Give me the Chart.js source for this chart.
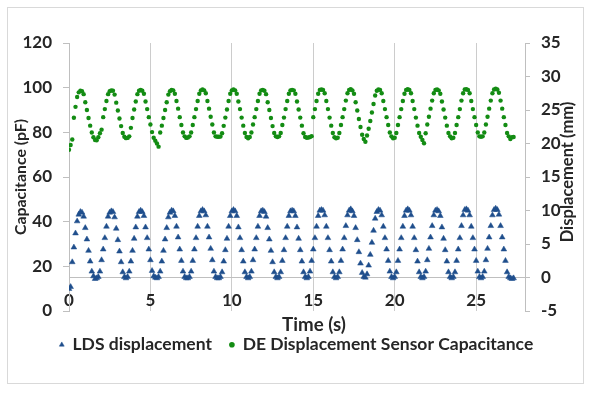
<!DOCTYPE html>
<html lang="en">
<head>
    <meta charset="utf-8">
    <title>DE displacement sensor</title>
    <script src="https://cdn.jsdelivr.net/npm/chart.js@4.4.1/dist/chart.umd.min.js"></script>
    <style>
        html, body { margin: 0; padding: 0; background: #fff; }
    </style>
</head>
<body>
    <canvas id="myChart" width="593" height="393"></canvas>

    <script>
        // sample times (s)
        const time = [
            0.0, 0.1, 0.2, 0.3, 0.4, 0.5, 0.6, 0.7, 0.8, 0.9,
            1.0, 1.1, 1.2, 1.3, 1.4, 1.5, 1.6, 1.7, 1.8, 1.9,
            2.0, 2.1, 2.2, 2.3, 2.4, 2.5, 2.6, 2.7, 2.8, 2.9,
            3.0, 3.1, 3.2, 3.3, 3.4, 3.5, 3.6, 3.7, 3.8, 3.9,
            4.0, 4.1, 4.2, 4.3, 4.4, 4.5, 4.6, 4.7, 4.8, 4.9,
            5.0, 5.1, 5.2, 5.3, 5.4, 5.5, 5.6, 5.7, 5.8, 5.9,
            6.0, 6.1, 6.2, 6.3, 6.4, 6.5, 6.6, 6.7, 6.8, 6.9,
            7.0, 7.1, 7.2, 7.3, 7.4, 7.5, 7.6, 7.7, 7.8, 7.9,
            8.0, 8.1, 8.2, 8.3, 8.4, 8.5, 8.6, 8.7, 8.8, 8.9,
            9.0, 9.1, 9.2, 9.3, 9.4, 9.5, 9.6, 9.7, 9.8, 9.9,
            10.0, 10.1, 10.2, 10.3, 10.4, 10.5, 10.6, 10.7, 10.8, 10.9,
            11.0, 11.1, 11.2, 11.3, 11.4, 11.5, 11.6, 11.7, 11.8, 11.9,
            12.0, 12.1, 12.2, 12.3, 12.4, 12.5, 12.6, 12.7, 12.8, 12.9,
            13.0, 13.1, 13.2, 13.3, 13.4, 13.5, 13.6, 13.7, 13.8, 13.9,
            14.0, 14.1, 14.2, 14.3, 14.4, 14.5, 14.6, 14.7, 14.8, 14.9,
            15.0, 15.1, 15.2, 15.3, 15.4, 15.5, 15.6, 15.7, 15.8, 15.9,
            16.0, 16.1, 16.2, 16.3, 16.4, 16.5, 16.6, 16.7, 16.8, 16.9,
            17.0, 17.1, 17.2, 17.3, 17.4, 17.5, 17.6, 17.7, 17.8, 17.9,
            18.0, 18.1, 18.2, 18.3, 18.4, 18.5, 18.6, 18.7, 18.8, 18.9,
            19.0, 19.1, 19.2, 19.3, 19.4, 19.5, 19.6, 19.7, 19.8, 19.9,
            20.0, 20.1, 20.2, 20.3, 20.4, 20.5, 20.6, 20.7, 20.8, 20.9,
            21.0, 21.1, 21.2, 21.3, 21.4, 21.5, 21.6, 21.7, 21.8, 21.9,
            22.0, 22.1, 22.2, 22.3, 22.4, 22.5, 22.6, 22.7, 22.8, 22.9,
            23.0, 23.1, 23.2, 23.3, 23.4, 23.5, 23.6, 23.7, 23.8, 23.9,
            24.0, 24.1, 24.2, 24.3, 24.4, 24.5, 24.6, 24.7, 24.8, 24.9,
            25.0, 25.1, 25.2, 25.3, 25.4, 25.5, 25.6, 25.7, 25.8, 25.9,
            26.0, 26.1, 26.2, 26.3, 26.4, 26.5, 26.6, 26.7, 26.8, 26.9,
            27.0, 27.1, 27.2, 27.3
        ];

        // LDS displacement (mm), one line per cycle ending at its peak
        const ldsDisplacement = [
            -1.7, -1.4, 2.3, 4.5, 6.6, 8.4, 9.4, 9.8,
            9.7, 9.1, 7.4, 5.7, 4.0, 2.4, 0.9, 0.2, -0.2, -0.1, 0.1, 0.9, 2.6, 4.2, 5.9, 7.6, 9.1, 9.7, 9.9,
            9.8, 9.0, 7.3, 5.6, 3.9, 2.3, 0.8, 0.1, -0.1, 0.1, 0.9, 2.4, 4.0, 5.8, 7.5, 9.1, 9.8, 10.0,
            9.8, 9.2, 7.5, 5.9, 4.2, 2.6, 1.0, 0.2, 0.0, -0.1, 0.1, 0.9, 2.4, 4.0, 5.7, 7.4, 9.0, 9.7, 10.0,
            9.9, 9.2, 7.6, 6.0, 4.2, 2.5, 0.9, 0.1, -0.1, -0.1, 0.1, 0.9, 2.5, 4.2, 5.9, 7.6, 9.2, 9.9, 10.1,
            9.9, 9.3, 7.6, 6.0, 4.3, 2.6, 0.9, 0.1, -0.1, -0.1, 0.1, 0.8, 2.4, 4.1, 5.8, 7.6, 9.2, 9.9, 10.1,
            9.9, 9.2, 7.5, 5.9, 4.1, 2.4, 0.8, 0.1, -0.1, 0.1, 0.9, 2.6, 4.2, 5.9, 7.6, 9.2, 9.9, 10.0,
            9.8, 9.1, 7.4, 5.7, 4.0, 2.3, 0.8, 0.1, -0.1, 0.1, 0.8, 2.5, 4.1, 5.9, 7.6, 9.2, 9.9, 10.0,
            9.9, 9.2, 7.5, 5.8, 4.1, 2.4, 0.8, 0.1, -0.1, 0.1, 0.9, 2.5, 4.2, 5.9, 7.6, 9.2, 10.0, 10.1,
            10.0, 9.3, 7.6, 5.9, 4.1, 2.4, 0.8, 0.1, -0.1, 0.1, 0.8, 2.5, 4.2, 5.9, 7.7, 9.3, 10.0, 10.2,
            9.9, 9.2, 7.4, 5.6, 3.8, 2.1, 0.7, 0.1, 0.0, 0.5, 1.8, 3.4, 5.2, 7.0, 8.8, 9.8, 10.1,
            10.0, 9.3, 7.6, 5.9, 4.2, 2.5, 0.9, 0.1, -0.1, 0.1, 0.8, 2.5, 4.2, 5.9, 7.6, 9.2, 10.0, 10.2,
            10.0, 9.3, 7.6, 5.9, 4.1, 2.4, 0.8, 0.1, -0.1, 0.1, 0.9, 2.6, 4.3, 6.0, 7.7, 9.3, 10.0, 10.1,
            9.9, 9.2, 7.5, 5.8, 4.1, 2.4, 0.8, 0.1, -0.1, 0.1, 0.8, 2.5, 4.2, 5.9, 7.7, 9.3, 10.1, 10.2,
            10.0, 9.3, 7.6, 5.9, 4.2, 2.5, 0.9, 0.1, -0.1, 0.1, 0.9, 2.6, 4.3, 6.0, 7.7, 9.3, 10.1, 10.3,
            10.1, 9.4, 7.7, 6.0, 4.2, 2.5, 0.8, 0.1, -0.1, -0.2, -0.1
        ];

        // DE displacement sensor capacitance (pF), same layout
        const deCapacitance = [
            72.2, 74.3, 76.8, 86.5, 91.4, 95.8, 97.9, 98.6,
            98.4, 97.1, 93.5, 90.0, 86.4, 83.0, 79.9, 77.8, 76.6, 76.4, 77.8, 79.6, 81.2, 86.8, 90.4, 94.0, 97.1, 98.4, 98.8,
            98.6, 96.9, 93.3, 89.8, 86.2, 82.8, 79.7, 78.0, 77.4, 77.5, 78.2, 82.0, 86.4, 90.2, 93.8, 97.1, 98.6, 99.0,
            98.6, 97.3, 93.8, 90.4, 86.8, 83.5, 80.1, 77.6, 76.2, 75.0, 73.6, 79.9, 83.0, 86.4, 90.0, 93.5, 96.9, 98.4, 99.0,
            98.8, 97.3, 94.0, 90.6, 86.8, 83.3, 79.9, 78.2, 77.5, 77.7, 78.2, 79.9, 83.3, 86.8, 90.4, 94.0, 97.3, 98.8, 99.2,
            98.8, 97.5, 94.0, 90.6, 87.0, 83.5, 79.9, 78.2, 78.0, 78.0, 78.1, 79.6, 82.9, 86.6, 90.2, 94.0, 97.3, 98.8, 99.2,
            98.8, 97.3, 93.8, 90.4, 86.6, 83.0, 79.7, 77.9, 77.3, 77.9, 79.9, 83.5, 86.8, 90.4, 94.0, 97.3, 98.8, 99.0,
            98.6, 97.1, 93.5, 90.0, 86.4, 82.8, 79.7, 78.2, 77.9, 78.2, 79.7, 83.3, 86.6, 90.4, 94.0, 97.3, 98.8, 99.0,
            98.8, 97.3, 93.8, 90.2, 86.6, 83.0, 79.6, 77.9, 77.6, 77.7, 77.9, 78.3, 86.8, 90.4, 94.0, 97.3, 99.0, 99.2,
            99.0, 97.5, 94.0, 90.4, 86.6, 83.0, 79.7, 77.8, 77.3, 77.6, 79.7, 83.3, 86.8, 90.4, 94.2, 97.5, 99.0, 99.3,
            98.8, 97.3, 93.5, 89.8, 86.0, 82.4, 78.9, 77.0, 75.8, 78.6, 81.6, 85.1, 88.9, 92.7, 96.5, 98.6, 99.2,
            99.0, 97.5, 94.0, 90.4, 86.8, 83.3, 79.9, 78.2, 77.3, 77.6, 79.7, 83.3, 86.8, 90.4, 94.0, 97.3, 99.0, 99.3,
            99.0, 97.5, 94.0, 90.4, 86.6, 83.0, 79.7, 78.0, 76.6, 75.1, 79.6, 83.5, 87.0, 90.6, 94.2, 97.5, 99.0, 99.2,
            98.8, 97.3, 93.8, 90.2, 86.6, 83.0, 79.7, 78.2, 77.3, 77.6, 79.7, 83.3, 86.8, 90.4, 94.2, 97.5, 99.2, 99.3,
            99.0, 97.5, 94.0, 90.4, 86.8, 83.3, 79.9, 78.2, 78.0, 78.2, 79.9, 83.5, 87.0, 90.6, 94.2, 97.5, 99.2, 99.5,
            99.2, 97.7, 94.2, 90.6, 86.8, 83.3, 79.7, 78.2, 77.0, 77.8, 77.9
        ];

        const textColor = '#262626';
        const lineColor = '#bfbfbf';
        const tickFont = { family: 'Lato', size: 17, weight: 'bold' };

        Chart.defaults.font.family = 'Lato';
        Chart.defaults.color = textColor;

        // frame + the two titles Chart.js can't place like Excel does
        const frameAndTitles = {
            id: 'frameAndTitles',
            beforeDraw(chart) {
                const ctx = chart.ctx;
                ctx.save();
                ctx.fillStyle = '#fff';
                ctx.fillRect(0, 0, chart.width, chart.height);
                ctx.strokeStyle = '#d9d9d9';
                ctx.lineWidth = 1;
                ctx.strokeRect(7.5, 7.5, chart.width - 17, chart.height - 17);
                ctx.restore();
            },
            afterDraw(chart) {
                const ctx = chart.ctx;
                const area = chart.chartArea;
                ctx.save();
                ctx.fillStyle = textColor;
                ctx.textAlign = 'center';
                ctx.textBaseline = 'middle';
                ctx.font = 'bold 18.7px Lato';
                ctx.fillText('Time (s)', (area.left + area.right) / 2 + 17, area.bottom + 14);
                ctx.font = 'bold 16.5px Lato';
                ctx.translate(area.right + 43, (area.top + area.bottom) / 2 - 5);
                ctx.rotate(-Math.PI / 2);
                ctx.fillText('Displacement (mm)', 0, 0);
                ctx.restore();
            }
        };

        const ldsPoints = time.map((t, i) => ({ x: t, y: ldsDisplacement[i] }));
        const capPoints = time.map((t, i) => ({ x: t, y: deCapacitance[i] }));

        const config = {
            type: 'scatter',
            data: {
                datasets: [
                    {
                        label: 'LDS displacement',
                        data: ldsPoints,
                        yAxisID: 'y2',
                        pointStyle: 'triangle',
                        pointRadius: 3.3,
                        borderWidth: 0.5,
                        backgroundColor: '#1f4e8c',
                        borderColor: '#1f4e8c'
                    },
                    {
                        label: 'DE Displacement Sensor Capacitance',
                        data: capPoints,
                        yAxisID: 'y',
                        pointStyle: 'circle',
                        pointRadius: 2.2,
                        borderWidth: 0,
                        backgroundColor: '#138c13',
                        borderColor: '#138c13'
                    }
                ]
            },
            options: {
                responsive: false,
                animation: false,
                devicePixelRatio: 1,
                events: [],
                layout: {
                    padding: { top: 43, right: 0, bottom: 29.5, left: 0 }
                },
                plugins: {
                    title: { display: false },
                    tooltip: { enabled: false },
                    legend: {
                        display: true,
                        position: 'bottom',
                        labels: {
                            usePointStyle: true,
                            boxWidth: 4,
                            boxHeight: 4,
                            padding: 18,
                            color: textColor,
                            font: { family: 'Lato', size: 17.5, weight: 'bold' }
                        }
                    }
                },
                scales: {
                    x: {
                        type: 'linear',
                        position: 'bottom',
                        min: 0,
                        max: 28,
                        afterBuildTicks: (scale) => {
                            scale.ticks = scale.ticks.filter(t => t.value % 5 === 0);
                        },
                        afterFit: (scale) => { scale.height = 7; },
                        // mirrored so the labels sit just inside the plot, as in Excel
                        ticks: { stepSize: 5, mirror: true, padding: 0, color: textColor, font: tickFont, maxRotation: 0 },
                        grid: { color: '#cccccc', drawTicks: false },
                        border: { display: false }
                    },
                    y: {
                        position: 'left',
                        min: 0,
                        max: 120,
                        afterFit: (scale) => { scale.width = 69; },
                        ticks: { stepSize: 20, padding: 11, color: textColor, font: tickFont },
                        grid: { drawOnChartArea: false, tickLength: 6, color: lineColor },
                        border: { color: lineColor },
                        title: {
                            display: true,
                            text: 'Capacitance (pF)',
                            color: textColor,
                            font: { family: 'Lato', size: 15.8, weight: 'bold' },
                            padding: { top: 11, bottom: 0 }
                        }
                    },
                    y2: {
                        position: 'right',
                        min: -5,
                        max: 35,
                        afterFit: (scale) => { scale.width = 68; },
                        ticks: { stepSize: 5, padding: 11, color: textColor, font: tickFont },
                        grid: {
                            color: (c) => c.tick && c.tick.value === 0 ? lineColor : 'rgba(0,0,0,0)',
                            tickColor: lineColor,
                            tickLength: 5
                        },
                        border: { color: lineColor }
                    }
                }
            },
            plugins: [frameAndTitles]
        };

        const myChart = new Chart(document.getElementById('myChart'), config);
    </script>
</body>
</html>
